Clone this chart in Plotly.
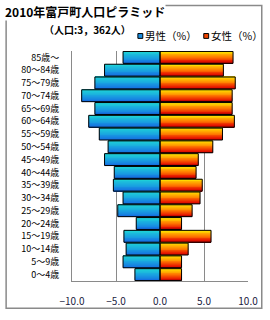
import plotly.graph_objects as go

ages = ["0～4歳", "5～9歳", "10～14歳", "15～19歳", "20～24歳", "25～29歳", "30～34歳",
        "35～39歳", "40～44歳", "45～49歳", "50～54歳", "55～59歳", "60～64歳", "65～69歳",
        "70～74歳", "75～79歳", "80～84歳", "85歳～"]
male = [2.85, 4.2, 3.85, 4.1, 2.7, 4.8, 4.2, 5.3, 5.2, 6.3, 5.9, 6.9, 8.1, 7.4, 8.9, 7.4, 6.3, 4.2]
female = [2.45, 2.45, 3.2, 5.8, 2.45, 3.65, 4.55, 4.8, 4.1, 4.35, 6.0, 7.1, 8.45, 8.2, 8.2, 8.55, 7.2, 8.3]
xticks = [-10, -5, 0, 5, 10]
xticklabels = ["−10.0", "−5.0", "0.0", "5.0", "10.0"]

male_neg = [-v for v in male]

def lerp(c1, c2, t):
    return tuple(round(a + (b - a) * t) for a, b in zip(c1, c2))

def grad(stops, t):
    for i in range(len(stops) - 1):
        t0, c0 = stops[i]
        t1, c1 = stops[i + 1]
        if t0 <= t <= t1:
            return lerp(c0, c1, (t - t0) / (t1 - t0) if t1 > t0 else 0)
    return stops[-1][1]

# t=0 bottom, t=1 top
male_stops = [(0.0, (20, 100, 225)), (0.5, (25, 160, 225)), (1.0, (30, 210, 215))]
female_stops = [(0.0, (170, 0, 0)), (0.2, (230, 20, 0)), (0.55, (255, 120, 0)), (1.0, (255, 225, 0))]

W = 0.93
N = 14
sw = W / N
fig = go.Figure()
for i in range(N):
    t = (i + 0.5) / N
    off = -W / 2 + i * sw
    cm = "rgb(%d,%d,%d)" % grad(male_stops, t)
    cf = "rgb(%d,%d,%d)" % grad(female_stops, t)
    fig.add_trace(go.Bar(y=ages, x=male_neg, orientation="h", width=sw * 1.15, offset=off,
                         marker=dict(color=cm, line=dict(width=0)), showlegend=False, hoverinfo="skip"))
    fig.add_trace(go.Bar(y=ages, x=female, orientation="h", width=sw * 1.15, offset=off,
                         marker=dict(color=cf, line=dict(width=0)), showlegend=False, hoverinfo="skip"))
for vals in (male_neg, female):
    fig.add_trace(go.Bar(y=ages, x=vals, orientation="h", width=W, offset=-W / 2,
                         marker=dict(color="rgba(0,0,0,0)", line=dict(color="black", width=1)),
                         showlegend=False, hoverinfo="skip"))

pl, pr, pt, pb = 72, 19, 51, 32
pw = 270 - pl - pr
ph = 320 - pt - pb
def px(x):
    return (x - pl) / pw
def py(y):
    return (320 - pb - y) / ph

shapes = [
    dict(type="rect", xref="paper", yref="paper", x0=px(5), x1=px(265), y0=py(316), y1=py(4),
         line=dict(color="#8a8a8a", width=1.5), layer="below"),
    dict(type="rect", xref="paper", yref="paper", x0=px(139), x1=px(144), y0=py(38), y1=py(33),
         fillcolor="#1a8ee0", line=dict(color="black", width=1)),
    dict(type="rect", xref="paper", yref="paper", x0=px(206), x1=px(211), y0=py(38), y1=py(33),
         fillcolor="#ee4400", line=dict(color="black", width=1)),
]

font_jp = "Noto Sans CJK JP"
annotations = [
    dict(text="<b>2010年富戸町人口ピラミッド</b>", xref="paper", yref="paper", x=px(3), y=py(1),
         xanchor="left", yanchor="top", showarrow=False, bgcolor="white", borderpad=0,
         font=dict(family=font_jp, size=12, color="black")),
    dict(text="<b>（人口:3，362人）</b>", xref="paper", yref="paper", x=px(43), y=py(20),
         xanchor="left", yanchor="top", showarrow=False, borderpad=0,
         font=dict(family=font_jp, size=10, color="black")),
    dict(text="男性（%）", xref="paper", yref="paper", x=px(144), y=py(35.5),
         xanchor="left", yanchor="middle", showarrow=False,
         font=dict(family=font_jp, size=10.5, color="black")),
    dict(text="女性（%）", xref="paper", yref="paper", x=px(211), y=py(35.5),
         xanchor="left", yanchor="middle", showarrow=False,
         font=dict(family=font_jp, size=10.5, color="black")),
]

fig.update_layout(
    width=270, height=320, margin=dict(l=pl, r=pr, t=pt, b=pb, pad=0),
    paper_bgcolor="white", plot_bgcolor="white", barmode="overlay",
    shapes=shapes, annotations=annotations, showlegend=False,
    xaxis=dict(range=[-10, 10], tickvals=xticks, ticktext=xticklabels, showgrid=True,
               gridcolor="#8a8a8a", gridwidth=1, zeroline=True, zerolinecolor="#8a8a8a",
               zerolinewidth=1, showline=True, linecolor="#8a8a8a", linewidth=1,
               ticks="", ticklen=0, ticklabelstandoff=11,
               tickfont=dict(family=font_jp, size=10, color="#1a1a40"),
               fixedrange=True),
    yaxis=dict(categoryorder="array", categoryarray=ages, showgrid=False, showline=True,
               linecolor="#8a8a8a", linewidth=1, ticks="", ticklen=0, ticklabelstandoff=10,
               tickfont=dict(family=font_jp, size=9, color="black"), fixedrange=True,
               range=[-0.5, len(ages) - 0.5]),
)

fig.write_html("out.html")
